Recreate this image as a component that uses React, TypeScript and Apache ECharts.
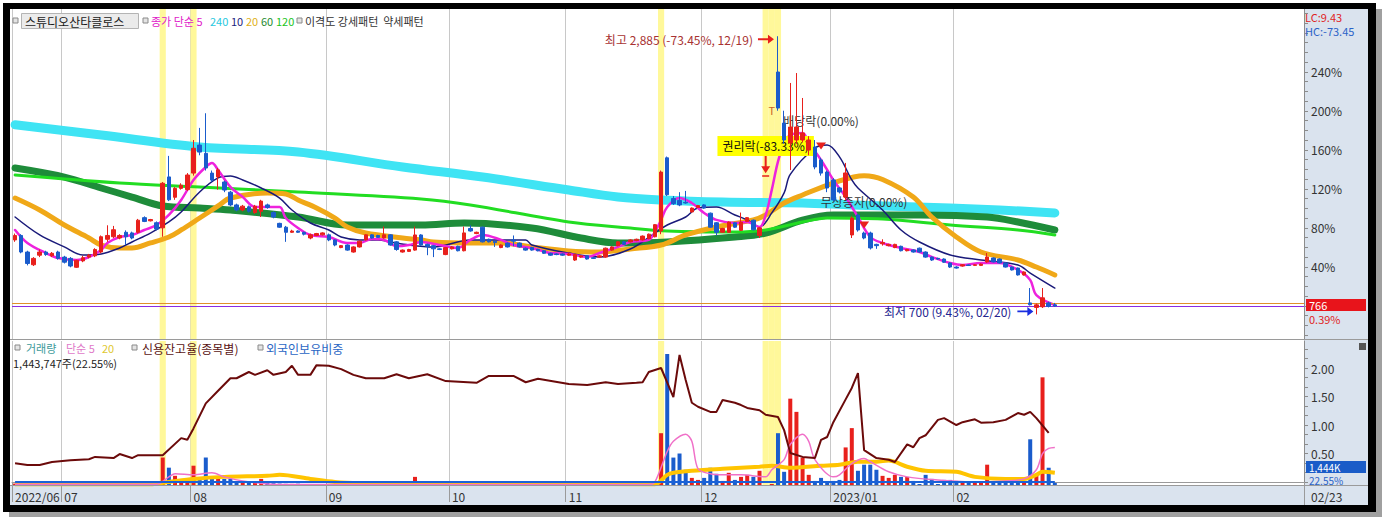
import React, { useEffect, useRef } from 'react';
import * as echarts from 'echarts';

const FONT = "'Noto Sans CJK KR', 'Noto Sans', sans-serif";
const SLOTS = 210;
const BASE_PRICE = 766;
const UP = '#e8201c';
const DOWN = '#1a5ccc';

const monthStartIdx = [0, 8, 29, 51, 71, 90, 112, 133, 153];
const monthLabels = ['2022/06', '07', '08', '09', '10', '11', '12', '2023/01', '02'];
const highlightIdx = [24, 29, 105, 122, 123, 124];

const opens = [
  1285, 1320, 1190, 1090, 1165, 1190, 1160, 1190, 1150, 1140,
  1070, 1120, 1150, 1160, 1190, 1290, 1310, 1300, 1345, 1340,
  1345, 1460, 1435, 1420, 1380, 1780, 1620, 1690, 1680, 1810,
  2030, 1965, 1810, 1780, 1740, 1660, 1560, 1520, 1545, 1500,
  1510, 1560, 1500, 1415, 1385, 1345, 1355, 1345, 1300, 1320,
  1325, 1325, 1285, 1225, 1245, 1190, 1230, 1285, 1325, 1320,
  1300, 1325, 1270, 1190, 1195, 1205, 1324, 1250, 1240, 1215,
  1170, 1215, 1235, 1200, 1375, 1335, 1385, 1290, 1275, 1225,
  1260, 1285, 1260, 1220, 1225, 1210, 1200, 1180, 1175, 1175,
  1165, 1127, 1150, 1160, 1145, 1150, 1150, 1205, 1240, 1270,
  1270, 1280, 1285, 1295, 1310, 1355, 1930, 1610, 1595, 1580,
  1505, 1540, 1560, 1495, 1420, 1345, 1345, 1420, 1360, 1430,
  1440, 1320, null, null, 2604, 2203, 2047, 2070, 2070, 1991,
  2015, 1913, 1818, 1756, 1693, 1622, 1324, 1481, 1339, 1339,
  1250, 1255, 1240, 1225, 1235, 1200, 1206, 1220, 1190, 1150,
  1140, 1135, 1104, 1072, 1080, 1088, 1085, 1085, 1112, 1143,
  1135, 1104, 1072, 1064, 1010, 790, 755, 760, 790, 775,
];
const closes = [
  1320, 1190, 1100, 1140, 1190, 1170, 1180, 1140, 1110, 1080,
  1125, 1145, 1165, 1210, 1310, 1320, 1365, 1320, 1310, 1300,
  1440, 1430, 1445, 1370, 1730, 1600, 1690, 1715, 1795, 2005,
  1975, 1850, 1755, 1835, 1677, 1560, 1520, 1550, 1510, 1550,
  1590, 1540, 1465, 1385, 1345, 1355, 1345, 1330, 1325, 1335,
  1340, 1285, 1245, 1240, 1205, 1230, 1275, 1325, 1300, 1305,
  1325, 1245, 1210, 1205, 1210, 1324, 1245, 1235, 1215, 1210,
  1225, 1230, 1200, 1340, 1355, 1345, 1270, 1270, 1265, 1245,
  1230, 1275, 1230, 1205, 1205, 1200, 1180, 1165, 1170, 1165,
  1175, 1170, 1160, 1135, 1140, 1160, 1220, 1230, 1270, 1250,
  1285, 1290, 1315, 1330, 1405, 1818, 1640, 1570, 1560, 1575,
  1535, 1555, 1535, 1385, 1345, 1375, 1425, 1385, 1425, 1460,
  1365, 1380, null, null, 2321, 2070, 2172, 2172, 2125, 2070,
  1858, 1810, 1693, 1599, 1662, 1811, 1457, 1363, 1300, 1222,
  1240, 1265, 1250, 1250, 1200, 1210, 1190, 1190, 1150, 1127,
  1135, 1110, 1072, 1064, 1090, 1085, 1090, 1095, 1151, 1112,
  1104, 1072, 1049, 1010, 1033, 776, 775, 830, 763, 766,
];
const lows = [
  1270, 1180, 1085, 1080, 1150, 1160, 1150, 1130, 1100, 1070,
  1065, 1110, 1140, 1150, 1180, 1270, 1300, 1290, 1245, 1290,
  1335, 1425, 1430, 1360, 1310, 1590, 1600, 1680, 1670, 1790,
  1950, 1830, 1740, 1680, 1660, 1550, 1510, 1510, 1500, 1490,
  1465, 1530, 1455, 1380, 1270, 1340, 1340, 1320, 1290, 1315,
  1320, 1275, 1235, 1220, 1200, 1185, 1225, 1280, 1295, 1300,
  1295, 1240, 1200, 1185, 1190, 1200, 1240, 1165, 1150, 1205,
  1165, 1210, 1195, 1195, 1350, 1330, 1265, 1265, 1230, 1220,
  1225, 1235, 1225, 1200, 1200, 1195, 1175, 1160, 1165, 1160,
  1160, 1120, 1145, 1130, 1135, 1145, 1145, 1200, 1235, 1245,
  1265, 1275, 1280, 1290, 1305, 1330, 1630, 1560, 1550, 1570,
  1500, 1535, 1530, 1380, 1320, 1340, 1340, 1380, 1355, 1425,
  1360, 1300, null, null, 2300, 2040, 1834, 2040, 2050, 1950,
  1840, 1790, 1660, 1590, 1650, 1600, 1300, 1350, 1290, 1210,
  1215, 1240, 1235, 1220, 1195, 1195, 1185, 1185, 1145, 1120,
  1130, 1105, 1065, 1060, 1075, 1080, 1080, 1080, 1105, 1108,
  1100, 1068, 1045, 1005, 1005, 770, 700, 750, 755, 760,
];
const highs = [
  1335, 1330, 1200, 1150, 1210, 1200, 1190, 1200, 1160, 1150,
  1130, 1160, 1175, 1220, 1320, 1400, 1395, 1330, 1360, 1350,
  1450, 1470, 1450, 1430, 1740, 1945, 1700, 1730, 1810, 2070,
  2165, 2280, 1830, 1850, 1750, 1670, 1570, 1560, 1555, 1560,
  1600, 1570, 1510, 1420, 1395, 1365, 1360, 1350, 1335, 1340,
  1345, 1335, 1290, 1245, 1250, 1235, 1280, 1330, 1330, 1325,
  1390, 1330, 1275, 1210, 1215, 1390, 1330, 1255, 1245, 1220,
  1230, 1235, 1240, 1390, 1400, 1350, 1390, 1295, 1280, 1250,
  1265, 1320, 1265, 1225, 1230, 1215, 1205, 1185, 1180, 1180,
  1185, 1175, 1165, 1165, 1150, 1165, 1225, 1235, 1275, 1275,
  1290, 1295, 1320, 1335, 1410, 1830, 1940, 1630, 1660, 1670,
  1540, 1560, 1565, 1500, 1425, 1380, 1430, 1425, 1500, 1465,
  1445, 1385, null, null, 2885, 2300, 2518, 2596, 2400, 2100,
  2070, 1930, 1830, 1770, 1700, 1890, 1470, 1490, 1350, 1350,
  1255, 1290, 1255, 1255, 1240, 1215, 1210, 1225, 1195, 1155,
  1145, 1140, 1110, 1078, 1095, 1092, 1095, 1100, 1182, 1148,
  1140, 1108, 1076, 1068, 1038, 907, 785, 907, 800, 790,
];
// volume in thousands of shares
const volumes = [
  120, 150, 90, 80, 100, 70, 60, 90, 80, 110,
  70, 60, 80, 90, 150, 130, 110, 90, 100, 80,
  120, 90, 70, 100, 2300, 1450, 770, 425, 510, 1615,
  510, 2300, 510, 510, 510, 510, 255, 255, 255, 255,
  510, 170, 150, 120, 100, 90, 110, 80, 70, 60,
  80, 90, 70, 60, 80, 70, 90, 110, 100, 80,
  70, 60, 70, 80, 90, 680, 150, 120, 100, 90,
  80, 70, 60, 70, 80, 120, 90, 80, 70, 60,
  70, 80, 60, 50, 60, 70, 60, 50, 60, 70,
  60, 80, 90, 70, 60, 80, 100, 90, 120, 110,
  100, 90, 130, 150, 200, 4335, 10965, 2295, 2635, 1275,
  595, 425, 595, 1445, 935, 340, 1020, 425, 680, 850,
  680, 1190, 0, 85, 4335, 1105, 7225, 6120, 2295, 850,
  340, 595, 255, 340, 425, 3145, 4760, 1190, 1700, 1700,
  1275, 765, 595, 850, 680, 680, 340, 85, 850, 510,
  85, 425, 425, 340, 255, 255, 255, 255, 1700, 255,
  170, 340, 170, 170, 255, 3825, 850, 9010, 1445, 170,
];

// moving averages: [day index, price]
const ma5 = [[0,1363],[2,1261],[5,1182],[7,1143],[10,1127],[12,1151],[14,1206],[15,1261],[17,1308],[19,1324],[21,1363],[23,1402],[25,1481],[27,1599],[29,1756],[31,1858],[32,1889],[33,1834],[35,1701],[37,1622],[39,1544],[41,1544],[43,1544],[44,1457],[46,1379],[48,1324],[51,1308],[54,1261],[56,1261],[58,1292],[60,1285],[62,1235],[64,1245],[66,1269],[69,1245],[72,1222],[74,1285],[76,1324],[79,1285],[81,1245],[84,1222],[87,1182],[90,1175],[93,1151],[95,1182],[98,1230],[100,1269],[103,1285],[104,1347],[105,1442],[106,1544],[108,1614],[110,1575],[111,1536],[112,1497],[114,1442],[117,1418],[119,1426],[121,1387],[122,1480],[123,1680],[124,1900],[125,2040],[126,2110],[128,2125],[129,2047],[131,1913],[133,1756],[135,1622],[137,1465],[139,1308],[141,1261],[144,1222],[147,1190],[149,1151],[152,1104],[154,1088],[157,1104],[160,1104],[163,1049],[165,970],[166,852],[169,774]];
const ma10 = [[0,1465],[4,1324],[8,1230],[11,1167],[14,1175],[17,1222],[19,1269],[22,1339],[25,1426],[27,1504],[30,1662],[33,1772],[35,1787],[37,1756],[40,1693],[43,1614],[45,1520],[48,1418],[51,1363],[53,1308],[56,1285],[59,1285],[61,1269],[64,1245],[68,1230],[74,1285],[79,1285],[83,1285],[84,1245],[90,1182],[95,1151],[100,1214],[104,1339],[106,1402],[109,1465],[111,1536],[114,1544],[117,1481],[119,1442],[121,1387],[123,1497],[125,1654],[126,1800],[130,2007],[132,2031],[134,1937],[136,1756],[137,1693],[141,1520],[144,1363],[147,1269],[152,1167],[157,1127],[163,1088],[165,1025],[169,907]];
const ma20 = [[0,1614],[4,1520],[8,1402],[12,1300],[14,1245],[17,1222],[19,1222],[22,1261],[25,1308],[27,1363],[30,1457],[33,1552],[35,1614],[41,1654],[44,1646],[46,1599],[49,1536],[52,1457],[54,1387],[57,1339],[63,1300],[66,1285],[68,1269],[74,1261],[79,1261],[84,1230],[90,1198],[95,1190],[100,1214],[105,1245],[109,1324],[114,1387],[120,1442],[122,1481],[125,1575],[128,1638],[133,1732],[138,1790],[141,1760],[146,1622],[149,1465],[153,1308],[157,1190],[163,1127],[166,1072],[169,1010]];
const ma60 = [[0,1850],[8,1779],[14,1693],[19,1622],[24,1552],[30,1536],[35,1520],[46,1465],[54,1402],[66,1402],[73,1418],[84,1379],[92,1300],[98,1261],[106,1269],[117,1308],[122,1339],[128,1440],[133,1481],[147,1481],[158,1465],[163,1426],[169,1363]];
const ma120 = [[0,1795],[17,1732],[30,1701],[46,1662],[66,1607],[74,1560],[90,1426],[100,1379],[106,1355],[117,1347],[122,1363],[128,1426],[132,1457],[141,1449],[152,1402],[163,1363],[169,1324]];
const ma240 = [[0,2190],[14,2109],[30,2015],[46,1976],[63,1858],[76,1779],[90,1677],[98,1622],[105,1599],[115,1583],[128,1575],[136,1560],[152,1536],[160,1520],[169,1497]];

// volume moving averages (thousands)
const volMa5 = [[0,60],[23,60],[25,680],[26,935],[29,850],[32,1020],[34,680],[37,340],[41,85],[45,40],[103,40],[104,255],[106,2805],[107,3655],[109,4250],[110,3655],[111,1360],[113,935],[115,850],[118,850],[122,680],[123,1275],[125,2125],[126,3400],[128,4250],[129,3655],[130,2125],[133,680],[134,850],[136,1785],[138,2210],[139,1955],[142,1105],[145,680],[150,425],[156,255],[161,340],[164,510],[166,1275],[167,2635],[168,3060],[169,3145]];
const volMa20 = [[0,60],[22,60],[25,255],[29,510],[34,680],[41,765],[43,850],[48,510],[52,255],[56,170],[85,85],[104,70],[106,850],[107,1020],[110,1190],[115,1360],[121,1530],[123,1615],[126,1445],[131,1615],[134,1700],[137,1955],[140,1955],[142,2040],[145,1530],[148,1190],[153,1105],[156,680],[161,510],[164,510],[166,850],[167,1105],[169,1020]];
// credit balance ratio (%)
const creditRatio = [[0,0.33],[2,0.30],[4,0.30],[6,0.35],[9,0.38],[12,0.40],[13,0.44],[16,0.42],[17,0.49],[19,0.42],[20,0.47],[24,0.47],[27,0.77],[28,0.74],[29,0.94],[31,1.38],[33,1.60],[35,1.82],[36,1.82],[38,1.93],[39,1.88],[41,1.96],[42,1.88],[44,1.93],[45,2.04],[46,1.88],[48,1.88],[49,2.05],[51,2.04],[53,1.98],[55,1.88],[57,1.82],[60,1.82],[62,1.89],[64,1.82],[67,1.89],[70,1.77],[75,1.74],[77,1.86],[81,1.86],[83,1.75],[85,1.81],[90,1.72],[93,1.70],[96,1.75],[98,1.72],[101,1.74],[102,1.75],[103,1.93],[105,2.00],[107,1.49],[108,2.23],[109,1.79],[110,1.39],[111,1.32],[113,1.23],[114,1.23],[115,1.44],[117,1.39],[118,1.35],[119,1.30],[121,1.26],[122,1.18],[124,1.14],[125,0.91],[126,0.51],[128,0.44],[130,0.42],[131,0.74],[132,0.79],[133,1.05],[135,1.45],[136,1.65],[137,1.91],[138,0.56],[140,0.42],[142,0.39],[143,0.35],[145,0.66],[146,0.61],[147,0.77],[148,0.82],[150,1.09],[151,1.12],[153,1.00],[154,1.05],[156,1.10],[157,1.04],[159,1.05],[161,1.09],[163,1.21],[164,1.18],[165,1.23],[166,1.12],[168,0.86]];
const foreignRatio = [[0, 2], [169, 2]];

const P_MIN = 506.7;
const P_MAX = 3099;
const ARROW_R = 'path://M0,4 L10,4 L10,0 L16,5 L10,10 L10,6 L0,6 Z';
const ARROW_D = 'path://M3.5,0 L5.5,0 L5.5,13 L9,13 L4.5,20 L0,13 L3.5,13 Z M1,22 L8,22 L8,23.5 L1,23.5 Z';

function buildOption() {
  const cats = Array.from({ length: SLOTS }, (_, i) => String(i));
  const isMonth = (i: number) => monthStartIdx.includes(i);
  const candleData = opens.map((o, i) => (o == null ? ['-', '-', '-', '-'] : [o, closes[i], lows[i], highs[i]]));
  const volData = volumes.map((v, i) => ({
    value: v,
    itemStyle: { color: opens[i] == null || (closes[i] as number) >= (opens[i] as number) ? UP : DOWN },
  }));
  const hlData = cats.map((_, i) => (highlightIdx.includes(i) ? 1 : '-'));
  const pctTicks: number[] = [];
  for (let k = -30; k <= 300; k += 10) pctTicks.push(BASE_PRICE * (1 + k / 100));
  const pctLabels = [40, 80, 120, 160, 200, 240].map((k) => BASE_PRICE * (1 + k / 100));
  const crTicks: number[] = [];
  for (let k = 0; k <= 14; k++) crTicks.push(k / 6);

  const lineSeries = (name: string, data: number[][], color: string, width: number, z: number) => ({
    name, type: 'line', xAxisIndex: 0, yAxisIndex: 0, data, showSymbol: false, smooth: 0.35,
    connectNulls: true, lineStyle: { color, width, cap: 'round', join: 'round' }, z, silent: true,
  });

  const txt = (text: string, x: number, y: number, fill: string, size = 12) => ({
    type: 'text', z: 60,
    style: { text, x, y, fill, fontSize: size, fontFamily: FONT, verticalAlign: 'middle' },
  });
  const sq = (x: number, y: number) => ({
    type: 'rect', z: 60, shape: { x, y, width: 5, height: 5 }, style: { fill: '#e4e4e4', stroke: '#8a8a8a', lineWidth: 1 },
  });

  const graphic: any[] = [
    { type: 'rect', z: -10, shape: { x: 1304, y: 9, width: 64, height: 496 }, style: { fill: '#dae3ee' } },
    { type: 'rect', z: -10, shape: { x: 10, y: 486, width: 1294, height: 19 }, style: { fill: '#dae3ee' } },
    { type: 'line', z: 50, shape: { x1: 10, y1: 339.5, x2: 1368, y2: 339.5 }, style: { stroke: '#9a9a9a', lineWidth: 1 } },
    { type: 'line', z: 50, shape: { x1: 10, y1: 485.5, x2: 1368, y2: 485.5 }, style: { stroke: '#9a9a9a', lineWidth: 1 } },
    { type: 'line', z: 50, shape: { x1: 1304.5, y1: 486, x2: 1304.5, y2: 505 }, style: { stroke: '#9a9a9a', lineWidth: 1 } },
    // frame + shadow
    { type: 'rect', z: -20, shape: { x: 1376, y: 9, width: 6, height: 508 }, style: { fill: '#a0a0a0' } },
    { type: 'rect', z: -20, shape: { x: 9, y: 512, width: 1373, height: 5 }, style: { fill: '#a0a0a0' } },
    { type: 'rect', z: 100, shape: { x: 3, y: 3, width: 1373, height: 6 }, style: { fill: '#000' } },
    { type: 'rect', z: 100, shape: { x: 3, y: 3, width: 7, height: 509 }, style: { fill: '#000' } },
    { type: 'rect', z: 100, shape: { x: 1368, y: 3, width: 8, height: 509 }, style: { fill: '#000' } },
    { type: 'rect', z: 100, shape: { x: 3, y: 505, width: 1373, height: 7 }, style: { fill: '#000' } },
    // top legend
    sq(13, 18),
    { type: 'rect', z: 59, shape: { x: 21.5, y: 13.5, width: 117, height: 15 }, style: { fill: '#ebebeb', stroke: '#b4b4b4', lineWidth: 1 } },
    txt('스튜디오산타클로스', 25, 21, '#1a1a1a'),
    sq(143, 18),
    txt('종가 단순 5', 151, 21, '#e020c8', 11),
    txt('240', 210, 21, '#28c8e0', 11),
    txt('10', 231, 21, '#1c1c80', 11),
    txt('20', 246, 21, '#e0b020', 11),
    txt('60', 261, 21, '#1e8a30', 11),
    txt('120', 276, 21, '#22c422', 11),
    sq(297, 18),
    txt('이격도 강세패턴  약세패턴', 305, 21, '#333', 11),
    // right axis header
    txt('LC:9.43', 1305, 17, '#e02424', 11),
    txt('HC:-73.45', 1305, 31, '#2a62c8', 11),
    // current price box
    { type: 'rect', z: 60, shape: { x: 1306, y: 299, width: 60, height: 12 }, style: { fill: '#e8141b' } },
    txt('766', 1309, 305, '#ffffff', 11),
    txt('0.39%', 1309, 319, '#e02424', 11),
    // lower legend
    sq(15, 345),
    txt('거래량', 26, 348, '#3d9a9a', 11),
    txt('단순 5', 66, 348, '#e078c8', 11),
    txt('20', 102, 348, '#e0c830', 11),
    sq(132, 345),
    txt('신용잔고율(종목별)', 142, 348, '#5a1414'),
    sq(258, 345),
    txt('외국인보유비중', 266, 348, '#2a66c4'),
    txt('1,443,747주(22.55%)', 13, 362.5, '#222', 11),
    // volume side box
    { type: 'rect', z: 60, shape: { x: 1306, y: 461, width: 60, height: 12 }, style: { fill: '#1a5cc8' } },
    txt('1,444K', 1309, 467, '#ffffff', 10),
    txt('22.55%', 1309, 480, '#2a62c8', 10),
    { type: 'rect', z: 60, shape: { x: 1359, y: 343, width: 7, height: 7 }, style: { fill: '#555' } },
    txt('02/23', 1311, 496, '#333'),
  ];

  return {
    animation: false,
    backgroundColor: '#ffffff',
    textStyle: { fontFamily: FONT },
    grid: [
      { left: 12, right: 85, top: 9, height: 330 },
      { left: 12, right: 85, top: 341, height: 144 },
    ],
    xAxis: [
      {
        type: 'category', gridIndex: 0, data: cats, boundaryGap: true,
        axisLine: { show: false }, axisTick: { show: false }, axisLabel: { show: false },
        splitLine: { show: true, interval: (i: number) => isMonth(i), lineStyle: { color: '#c8c8c8', width: 1 } },
      },
      {
        type: 'category', gridIndex: 1, data: cats, boundaryGap: true,
        axisLine: { show: true, lineStyle: { color: '#9a9a9a' } },
        axisTick: { show: true, interval: (i: number) => isMonth(i), length: 20, lineStyle: { color: '#9a9a9a' } },
        axisLabel: {
          show: true, interval: (i: number) => isMonth(i), align: 'left', margin: 5, color: '#333', fontSize: 12, fontFamily: FONT,
          formatter: (v: string) => { const k = monthStartIdx.indexOf(Number(v)); return k >= 0 ? monthLabels[k] : ''; },
        },
        splitLine: { show: true, interval: (i: number) => isMonth(i), lineStyle: { color: '#c8c8c8', width: 1 } },
      },
      { type: 'category', gridIndex: 0, data: cats, show: false, boundaryGap: true },
      { type: 'category', gridIndex: 1, data: cats, show: false, boundaryGap: true },
    ],
    yAxis: [
      {
        type: 'value', gridIndex: 0, position: 'right', min: P_MIN, max: P_MAX,
        axisLine: { show: true, lineStyle: { color: '#8c8c8c' } },
        axisTick: { show: true, customValues: pctTicks, length: 4, lineStyle: { color: '#8c8c8c' } },
        axisLabel: {
          show: true, customValues: pctLabels, margin: 7, color: '#333', fontSize: 12, fontFamily: FONT,
          formatter: (v: number) => Math.round((v / BASE_PRICE - 1) * 100) + '%',
        },
        splitLine: { show: false },
      },
      {
        type: 'value', gridIndex: 1, position: 'right', min: -0.0526, max: 2.4737,
        axisLine: { show: true, lineStyle: { color: '#8c8c8c' } },
        axisTick: { show: true, customValues: crTicks, length: 4, lineStyle: { color: '#8c8c8c' } },
        axisLabel: {
          show: true, customValues: [0.5, 1, 1.5, 2], margin: 7, color: '#333', fontSize: 12, fontFamily: FONT,
          formatter: (v: number) => v.toFixed(2),
        },
        splitLine: { show: false },
      },
      { type: 'value', gridIndex: 1, show: false, min: 0, max: 12050, splitLine: { show: false } },
      { type: 'value', gridIndex: 1, show: false, min: 0, max: 100, splitLine: { show: false } },
      { type: 'value', gridIndex: 0, show: false, min: 0, max: 1, splitLine: { show: false } },
      { type: 'value', gridIndex: 1, show: false, min: 0, max: 1, splitLine: { show: false } },
    ],
    series: [
      {
        name: 'hl0', type: 'bar', xAxisIndex: 2, yAxisIndex: 4, data: hlData, barWidth: '100%',
        itemStyle: { color: '#fff89a' }, silent: true, z: 1,
      },
      {
        name: 'hl1', type: 'bar', xAxisIndex: 3, yAxisIndex: 5, data: hlData, barWidth: '100%',
        itemStyle: { color: '#fff89a' }, silent: true, z: 1,
      },
      lineSeries('MA240', ma240, '#3fe4f4', 9, 3),
      lineSeries('MA60', ma60, '#1e8c3a', 7, 3),
      lineSeries('MA120', ma120, '#22dd22', 3, 3),
      lineSeries('MA20', ma20, '#f0a818', 5, 3),
      lineSeries('MA10', ma10, '#1a1a7a', 1.5, 3),
      lineSeries('MA5', ma5, '#ee22dd', 2.5, 3),
      {
        name: 'price', type: 'candlestick', xAxisIndex: 0, yAxisIndex: 0, data: candleData, barWidth: 4, z: 5,
        itemStyle: { color: UP, color0: DOWN, borderColor: UP, borderColor0: DOWN, borderWidth: 1 },
        markLine: {
          silent: true, symbol: ['none', 'none'], label: { show: false },
          data: [
            { yAxis: 790, lineStyle: { color: '#e0902a', width: 1, type: 'solid' } },
            { yAxis: BASE_PRICE, lineStyle: { color: '#8a2be2', width: 1, type: 'solid' } },
          ],
        },
        markPoint: {
          silent: true,
          data: [
            {
              coord: [124, 2885], symbol: ARROW_R, symbolSize: [16, 9], symbolOffset: [-12, 3],
              itemStyle: { color: '#e8201c' },
              label: { show: true, position: 'left', distance: 5, formatter: '최고 2,885 (-73.45%, 12/19)', color: '#a83232', fontSize: 12, fontFamily: FONT },
            },
            {
              coord: [166, 700], symbol: ARROW_R, symbolSize: [16, 9], symbolOffset: [-11, -3],
              itemStyle: { color: '#1a2ee0' },
              label: { show: true, position: 'left', distance: 6, formatter: '최저 700 (9.43%, 02/20)', color: '#25258f', fontSize: 12, fontFamily: FONT },
            },
            {
              coord: [122, 1874], symbol: ARROW_D, symbolSize: [9, 23.5], itemStyle: { color: '#e8201c' }, label: { show: false },
            },
            {
              coord: [122, 2023], symbol: 'rect', symbolSize: 1, itemStyle: { color: 'rgba(0,0,0,0)' },
              label: { show: true, position: 'inside', formatter: '권리락(-83.33%)', backgroundColor: '#ffff00', padding: [4, 5, 4, 5], color: '#111', fontSize: 12, fontFamily: FONT },
            },
            {
              coord: [131, 2023], symbol: 'triangle', symbolRotate: 180, symbolSize: [10, 7], itemStyle: { color: '#e8201c' },
              label: { show: true, position: 'top', distance: 16, formatter: '배당락(0.00%)', color: '#333', fontSize: 12, fontFamily: FONT },
            },
            {
              coord: [138, 1402], symbol: 'triangle', symbolRotate: 180, symbolSize: [10, 7], itemStyle: { color: '#e8201c' },
              label: { show: true, position: 'top', distance: 14, formatter: '무상증자(0.00%)', color: '#333', fontSize: 12, fontFamily: FONT },
            },
            {
              coord: [123, 2306], symbol: 'rect', symbolSize: 1, itemStyle: { color: 'rgba(0,0,0,0)' },
              label: { show: true, position: 'inside', formatter: 'T', color: '#c86428', fontSize: 11, fontFamily: FONT },
            },
          ],
        },
      },
      {
        name: 'volume', type: 'bar', xAxisIndex: 1, yAxisIndex: 2, data: volData, barWidth: 4, z: 3, silent: true,
      },
      {
        name: 'volMa20', type: 'line', xAxisIndex: 1, yAxisIndex: 2, data: volMa20, showSymbol: false, smooth: 0.3,
        lineStyle: { color: '#ffc400', width: 4 }, z: 4, silent: true,
      },
      {
        name: 'volMa5', type: 'line', xAxisIndex: 1, yAxisIndex: 2, data: volMa5, showSymbol: false, smooth: 0.3,
        lineStyle: { color: '#f070c8', width: 1.5 }, z: 4, silent: true,
      },
      {
        name: 'foreign', type: 'line', xAxisIndex: 1, yAxisIndex: 3, data: foreignRatio, showSymbol: false,
        lineStyle: { color: '#1a62d8', width: 2 }, z: 4, silent: true,
      },
      {
        name: 'credit', type: 'line', xAxisIndex: 1, yAxisIndex: 1, data: creditRatio, showSymbol: false,
        lineStyle: { color: '#6b0a0a', width: 2 }, z: 5, silent: true,
      },
    ],
    graphic,
  };
}

export default function App() {
  const ref = useRef<HTMLDivElement>(null);
  useEffect(() => {
    if (!ref.current) return;
    const chart = echarts.init(ref.current, null, { renderer: 'svg' });
    chart.setOption(buildOption() as any);
    return () => chart.dispose();
  }, []);
  return (
    <div
      ref={ref}
      style={{ position: 'fixed', left: 0, top: 0, width: 1389, height: 520, background: '#fff' }}
    />
  );
}
